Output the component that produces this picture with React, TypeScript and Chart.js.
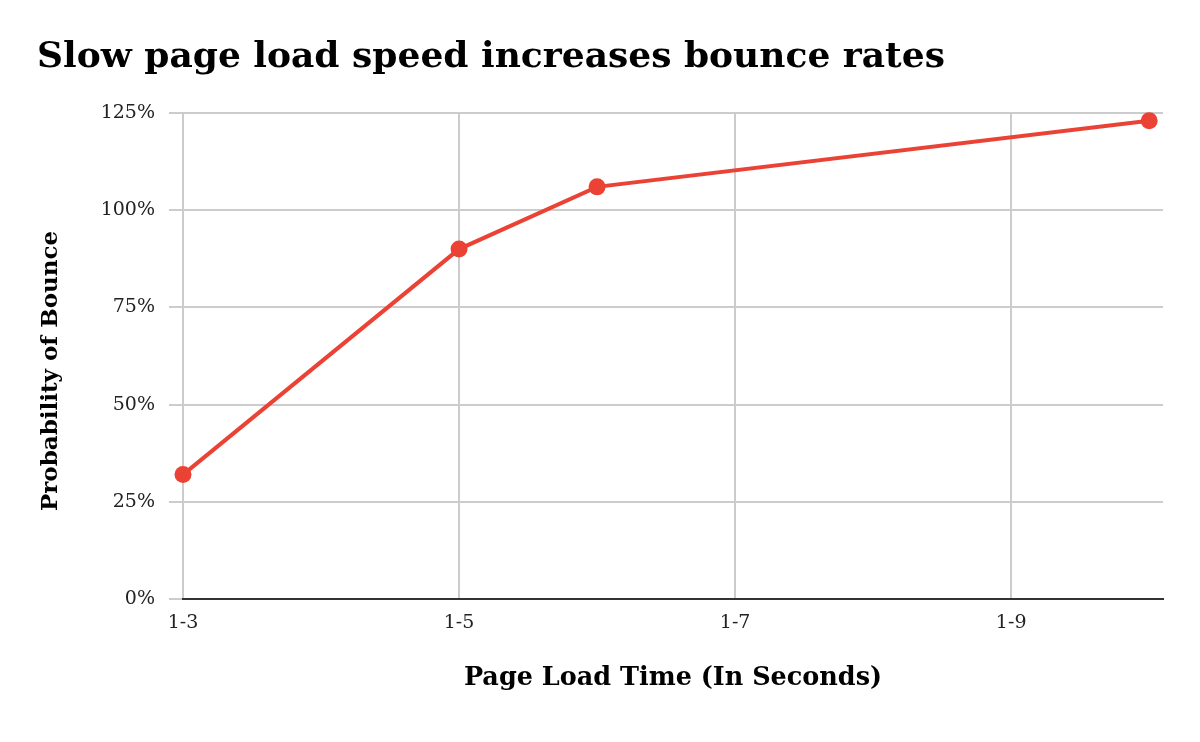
import React, { useEffect, useRef } from "react";
import { Chart, registerables } from "chart.js";

Chart.register(...registerables);

const loadTimes = [3, 5, 6, 10];
const bounceProbability = [32, 90, 106, 123];
const xTickValues = [3, 5, 7, 9];
const yTickValues = [0, 25, 50, 75, 100, 125];
const yAxisTitle = "Probability of Bounce";

const RED = "#EA4335";
const GRID = "#cccccc";
const SERIF = "'DejaVu Serif', 'Liberation Serif', serif";

const yTitlePlugin = {
  id: "yTitle",
  afterDraw(chart: any) {
    const { ctx, chartArea } = chart;
    ctx.save();
    ctx.font = `bold 23px ${SERIF}`;
    ctx.fillStyle = "#000";
    ctx.textAlign = "center";
    ctx.textBaseline = "middle";
    ctx.translate(29 + 13.8, (chartArea.top + chartArea.bottom) / 2 + 15);
    ctx.rotate(-Math.PI / 2);
    ctx.fillText(yAxisTitle, 0, 0);
    ctx.restore();
  },
};

export default function App() {
  const ref = useRef<HTMLCanvasElement | null>(null);

  useEffect(() => {
    if (!ref.current) return;
    const chart = new Chart(ref.current, {
      type: "line",
      data: {
        datasets: [
          {
            label: yAxisTitle,
            data: loadTimes.map((x, i) => ({ x, y: bounceProbability[i] })),
            borderColor: RED,
            backgroundColor: RED,
            borderWidth: 4,
            pointRadius: 8.5,
            pointHoverRadius: 8.5,
            pointBorderWidth: 0,
            tension: 0,
            clip: false,
          },
        ],
      },
      plugins: [yTitlePlugin],
      options: {
        animation: false,
        responsive: true,
        maintainAspectRatio: false,
        layout: { padding: { left: 29, right: 29, top: 0, bottom: 40 } },
        plugins: {
          legend: { display: false },
          tooltip: { enabled: false },
          title: {
            display: true,
            text: "Slow page load speed increases bounce rates",
            align: "start",
            color: "#000",
            font: { family: SERIF, size: 36, weight: "bold", lineHeight: 1.2 },
            padding: { top: 28, bottom: 33.8 },
          },
        },
        scales: {
          x: {
            type: "linear",
            min: 3,
            max: 10.1,
            afterBuildTicks: (scale: any) => {
              scale.ticks = xTickValues.map((v) => ({ value: v }));
            },
            afterFit: (scale: any) => {
              scale.height = 95;
            },
            ticks: {
              color: "#222",
              font: { family: SERIF, size: 19 },
              padding: 13,
              maxRotation: 0,
              callback: (v: any) => `1-${v}`,
            },
            grid: { color: GRID, lineWidth: 2, drawTicks: false },
            border: { display: true, color: "#333", width: 2 },
            title: {
              display: true,
              text: "Page Load Time (In Seconds)",
              color: "#000",
              font: { family: SERIF, size: 25.5, weight: "bold" },
              padding: { top: 20, bottom: 0 },
            },
          },
          y: {
            type: "linear",
            min: 0,
            max: 125,
            afterBuildTicks: (scale: any) => {
              scale.ticks = yTickValues.map((v) => ({ value: v }));
            },
            afterFit: (scale: any) => {
              scale.width = 146;
            },
            ticks: {
              color: "#222",
              font: { family: SERIF, size: 19 },
              padding: 14,
              callback: (v: any) => `${v}%`,
            },
            grid: { color: GRID, lineWidth: 2, tickLength: 14 },
            border: { display: false },
            title: { display: false },
          },
        },
      },
    });
    return () => chart.destroy();
  }, []);

  return (
    <div style={{ width: 1184, height: 726, position: "relative" }}>
      <canvas ref={ref} />
    </div>
  );
}
